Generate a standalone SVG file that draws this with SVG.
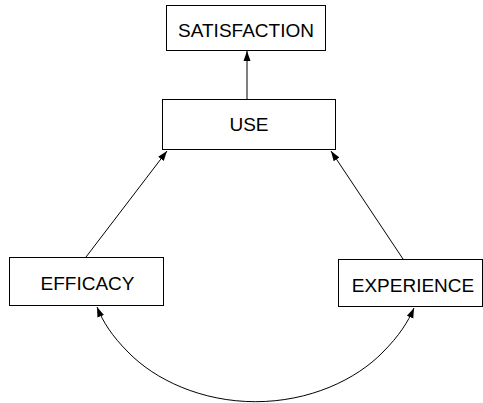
<svg xmlns="http://www.w3.org/2000/svg" width="483" height="403" viewBox="0 0 483 403">
  <style>
    .box { fill: #ffffff; stroke: #000000; stroke-width: 1; }
    .label { font-family: "Liberation Sans", Arial, sans-serif; font-size: 19px; fill: #000000; text-anchor: middle; }
    .edge { fill: none; stroke: #000000; stroke-width: 1; }
  </style>
  <defs>
    <marker id="arrow" viewBox="0 0 10 10" refX="10" refY="5" markerWidth="10" markerHeight="10" markerUnits="userSpaceOnUse" orient="auto">
      <path d="M0,1.5 L10,5 L0,8.5 Z" fill="#000000"/>
    </marker>
  </defs>
  <rect width="483" height="403" fill="#ffffff"/>

  <g id="connectors">
    <line class="edge" x1="247" y1="99" x2="247" y2="51" marker-end="url(#arrow)"/>
    <line class="edge" x1="86" y1="257" x2="167" y2="151" marker-end="url(#arrow)"/>
    <line class="edge" x1="403" y1="259" x2="331" y2="151" marker-end="url(#arrow)"/>
    <path class="edge" d="M255.5,401.7 C202,401.7 155,380 128,352 C112,336 103,322 97,307" marker-end="url(#arrow)"/>
    <path class="edge" d="M255.5,401.7 C309,401.7 356,380 383,352 C399,336 408,322 414,308" marker-end="url(#arrow)"/>
  </g>

  <g id="satisfaction">
    <rect class="box" x="166.5" y="5.5" width="159" height="45"/>
    <text class="label" x="246" y="37">SATISFACTION</text>
  </g>
  <g id="use">
    <rect class="box" x="162.5" y="99.5" width="173" height="50"/>
    <text class="label" x="249" y="131">USE</text>
  </g>
  <g id="efficacy">
    <rect class="box" x="9.5" y="257.5" width="154" height="48"/>
    <text class="label" x="87.5" y="290">EFFICACY</text>
  </g>
  <g id="experience">
    <rect class="box" x="338.5" y="259.5" width="144" height="47"/>
    <text class="label" x="413" y="291.5">EXPERIENCE</text>
  </g>
</svg>
